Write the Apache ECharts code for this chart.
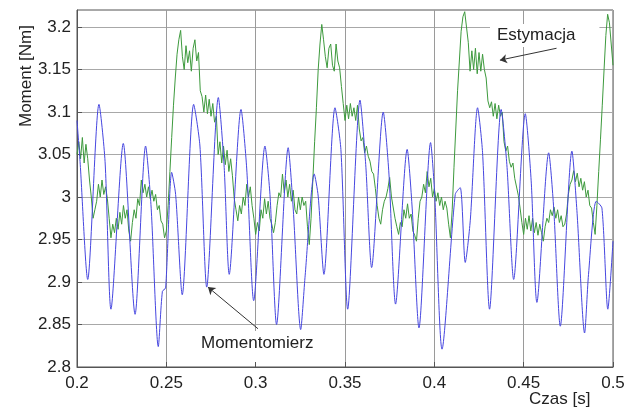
<!DOCTYPE html>
<html>
<head>
<meta charset="utf-8">
<script src="https://cdn.jsdelivr.net/npm/echarts@6/dist/echarts.min.js"></script>
<style>
  html, body { margin: 0; padding: 0; background: #fff; }
  #chart { width: 637px; height: 411px; }
</style>
</head>
<body>
<div id="chart"></div>
<script>
// x axis ticks (time, s) and y axis range (torque, Nm)
const xTicks = [0.2, 0.25, 0.3, 0.35, 0.4, 0.45, 0.5];
const yMin = 2.8, yMax = 3.22;

const momentomierz = [
  [0.2, 3.09], [0.2017, 3.042], [0.206, 2.903], [0.2123, 3.109], [0.2157, 3.042],
  [0.219, 2.868], [0.2259, 3.063], [0.2325, 2.862], [0.2384, 3.06], [0.2414, 2.991],
  [0.2455, 2.824], [0.2478, 2.889], [0.2496, 2.893], [0.253, 3.029], [0.2552, 3.003],
  [0.2589, 2.885], [0.2653, 3.109], [0.2688, 3.06], [0.2726, 2.894], [0.2791, 3.117],
  [0.2823, 3.038], [0.2852, 2.909], [0.2918, 3.103], [0.295, 3.033], [0.2989, 2.878],
  [0.3052, 3.06], [0.308, 3.003], [0.3117, 2.85], [0.3182, 3.058], [0.321, 2.987],
  [0.3252, 2.844], [0.3276, 2.905], [0.3328, 3.027], [0.335, 3.001], [0.3382, 2.909],
  [0.3444, 3.105], [0.3477, 3.056], [0.3515, 2.868], [0.3584, 3.114], [0.3616, 3.038],
  [0.3649, 2.917], [0.3714, 3.1], [0.3746, 3.027], [0.3783, 2.874], [0.3848, 3.056],
  [0.3876, 2.987], [0.3914, 2.846], [0.3979, 3.064], [0.4002, 3.003], [0.4043, 2.821],
  [0.4117, 3.003], [0.4145, 3.011], [0.4173, 2.923], [0.4201, 2.972], [0.4242, 3.105],
  [0.427, 3.052], [0.4309, 2.868], [0.4374, 3.103], [0.4406, 3.038], [0.4444, 2.903],
  [0.4509, 3.098], [0.4542, 3.019], [0.4574, 2.876], [0.464, 3.052], [0.4668, 2.987],
  [0.4705, 2.848], [0.477, 3.054], [0.4798, 2.984], [0.4841, 2.84], [0.4863, 2.909],
  [0.4906, 2.995], [0.4938, 2.987], [0.4971, 2.868], [0.5, 2.948]
];

// Estymacja (estimated) - sampled every 1 ms from 0.2 s
const estStart = 0.2;
const estStep = 0.001;
const estymacja = [
  3.05, 3.065, 3.045, 3.07, 3.04, 3.062, 3.045, 3.02, 3.0, 2.975,
  2.985, 2.995, 3.015, 3.0, 3.02, 3.003, 3.012, 2.998, 2.975, 2.952,
  2.968, 2.958, 2.975, 2.962, 2.982, 2.968, 2.99, 2.975, 2.985, 2.96,
  2.948, 2.97, 2.985, 2.975, 2.998, 2.99, 3.02, 3.005, 3.015, 3.0,
  3.012, 2.998, 3.008, 2.995, 3.003, 2.985, 2.99, 2.972, 2.968, 2.952,
  2.96, 2.99, 3.03, 3.07, 3.108, 3.14, 3.168, 3.185, 3.196, 3.165,
  3.15, 3.178, 3.158, 3.172, 3.148, 3.175, 3.185, 3.16, 3.17, 3.125,
  3.118, 3.1, 3.12, 3.098, 3.115, 3.095, 3.11, 3.088, 3.095, 3.05,
  3.065, 3.04, 3.06, 3.038, 3.055, 3.03, 3.045, 3.025, 2.998, 2.985,
  2.972, 2.99, 2.98, 3.0, 2.99, 3.015, 3.0, 3.012, 2.99, 2.975,
  2.956, 2.97, 2.96, 2.985, 2.975, 2.998, 2.98, 2.995, 2.975, 2.968,
  2.958, 2.97, 2.99, 3.005, 3.0, 3.027, 3.005, 3.02, 3.0, 3.015,
  2.995, 3.008, 2.985, 2.98, 3.0, 2.985, 3.0, 2.99, 2.995, 2.965,
  2.944, 2.975, 3.02, 3.065, 3.105, 3.15, 3.18, 3.203, 3.185, 3.165,
  3.152, 3.175, 3.18, 3.155, 3.148, 3.18, 3.16, 3.152, 3.13, 3.11,
  3.09, 3.108, 3.092, 3.11, 3.095, 3.105, 3.09, 3.108, 3.08, 3.066,
  3.07, 3.052, 3.06, 3.048, 3.042, 3.03, 3.027, 3.01, 2.99, 2.975,
  2.968, 2.985, 2.995, 3.0, 3.01, 3.023, 3.0, 2.998, 2.975, 2.965,
  2.956, 2.97, 2.965, 2.985, 2.975, 2.992, 2.975, 2.98, 2.96, 2.955,
  2.948, 2.975, 2.995, 3.0, 3.015, 3.005, 3.03, 3.012, 3.022, 3.0,
  3.01, 2.995, 3.005, 2.99, 3.0, 2.985, 2.995, 2.987, 2.968, 2.952,
  2.985, 3.035, 3.08, 3.125, 3.16, 3.195, 3.212, 3.218, 3.2, 3.182,
  3.148, 3.172, 3.15, 3.175, 3.145, 3.17, 3.148, 3.168, 3.15, 3.14,
  3.113, 3.105, 3.112, 3.095, 3.11, 3.092, 3.108, 3.095, 3.1, 3.065,
  3.054, 3.06, 3.042, 3.035, 3.04, 3.022, 3.02, 3.002, 2.987, 2.97,
  2.956, 2.975, 2.962, 2.978, 2.96, 2.975, 2.958, 2.97, 2.955, 2.968,
  2.958, 2.948, 2.965, 2.975, 2.97, 2.985, 2.978, 2.988, 2.975, 2.985,
  2.97, 2.978, 2.965, 2.968, 2.98, 3.003, 3.015, 3.02, 3.031, 3.018,
  3.028, 3.012, 3.022, 3.008, 3.018, 3.0, 3.008, 2.99, 2.987, 2.97,
  2.956, 2.99, 3.03, 3.068, 3.108, 3.15, 3.19, 3.215, 3.205, 3.18, 3.155
];

const font = "'Liberation Sans', Arial, sans-serif";
const textColor = "#222";

const chart = echarts.init(document.getElementById("chart"), null, { renderer: "canvas" });

const estData = estymacja.map((v, i) => [+(estStart + i * estStep).toFixed(3), v]);

chart.setOption({
  animation: false,
  backgroundColor: "#fff",
  grid: {
    left: 77,
    right: 24,
    top: 10,
    bottom: 44,
    show: true,
    borderColor: "#555",
    borderWidth: 1,
  },
  xAxis: {
    type: "value",
    min: xTicks[0],
    max: xTicks[xTicks.length - 1],
    interval: 0.05,
    axisLine: { lineStyle: { color: "#555" } },
    axisTick: { inside: true, length: 5, lineStyle: { color: "#555" } },
    axisLabel: { color: textColor, fontFamily: font, fontSize: 17, margin: 8 },
    splitLine: { show: true, lineStyle: { color: "#9a9a9a", width: 1 } },
  },
  yAxis: {
    type: "value",
    min: yMin,
    max: yMax,
    interval: 0.05,
    axisLine: { show: true, lineStyle: { color: "#555" } },
    axisTick: { show: true, inside: true, length: 5, lineStyle: { color: "#555" } },
    axisLabel: { color: textColor, fontFamily: font, fontSize: 17, margin: 6,
      showMaxLabel: false },
    splitLine: { show: true, lineStyle: { color: "#a8a8a8", width: 1 } },
  },
  series: [
    {
      name: "Estymacja",
      type: "line",
      data: estData,
      showSymbol: false,
      lineStyle: { color: "#3d9a3d", width: 1 },
      z: 3,
      markLine: {
        silent: true,
        symbol: ["none", "arrow"],
        symbolSize: 7,
        label: { show: false },
        lineStyle: { color: "#333", width: 1, type: "solid" },
        data: [[{ coord: [0.4684, 3.175] }, { coord: [0.4367, 3.161] }]],
      },
    },
    {
      name: "Momentomierz",
      type: "line",
      data: momentomierz,
      showSymbol: false,
      smooth: 0.25,
      lineStyle: { color: "#4646e0", width: 1 },
      z: 4,
      markLine: {
        silent: true,
        symbol: ["none", "arrow"],
        symbolSize: 7,
        label: { show: false },
        lineStyle: { color: "#333", width: 1, type: "solid" },
        data: [[{ coord: [0.3013, 2.845] }, { coord: [0.2733, 2.894] }]],
      },
    },
  ],
  graphic: [
    {
      type: "text", left: 490, top: 24, z: 1,
      style: { text: "Estymacja", font: "17px " + font, fill: textColor,
        backgroundColor: "#fff", padding: [3, 24, 3, 7] },
    },
    {
      type: "text", left: 196, top: 331, z: 1,
      style: { text: "Momentomierz", font: "17px " + font, fill: textColor,
        backgroundColor: "#fff", padding: [4, 6, 10, 5] },
    },
    {
      type: "text", left: 529, top: 391,
      style: { text: "Czas [s]", font: "17px " + font, fill: textColor },
    },
    {
      type: "text", x: 26, y: 76, rotation: Math.PI / 2,
      style: { text: "Moment [Nm]", font: "17px " + font, fill: textColor,
        align: "center", verticalAlign: "middle" },
    },
  ],
});
</script>
</body>
</html>
